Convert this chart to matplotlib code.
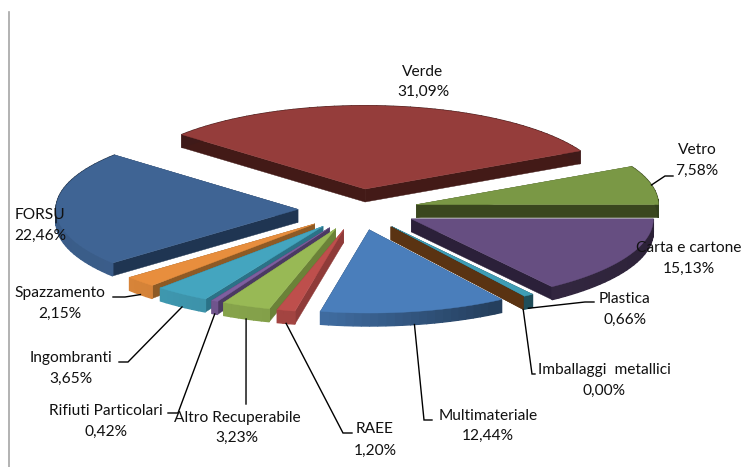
import numpy as np
import matplotlib
matplotlib.use("Agg")
import matplotlib.pyplot as plt
from matplotlib.patches import Polygon

# ---- data ----
categories = ["Verde", "Vetro", "Carta e cartone", "Plastica", "Imballaggi  metallici",
              "Multimateriale", "RAEE", "Altro Recuperabile", "Rifiuti Particolari",
              "Ingombranti", "Spazzamento", "FORSU"]
values = [31.09, 7.58, 15.13, 0.66, 0.00, 12.44, 1.20, 3.23, 0.42, 3.65, 2.15, 22.46]
pct_labels = ["31,09%", "7,58%", "15,13%", "0,66%", "0,00%", "12,44%",
              "1,20%", "3,23%", "0,42%", "3,65%", "2,15%", "22,46%"]

# ---- style ----
top_colors = ["#953D3B", "#7A9845", "#664E81", "#3F9DB5", "#E68B3A", "#4A7EBB",
              "#BE4F4C", "#98B955", "#7E5F9F", "#44A5BF", "#E88E3D", "#3F6494"]
wall_colors = ["#431A17", "#3A471E", "#2B2039", "#143E48", "#5A3312", "#223E60",
               "#8F3B39", "#6B8238", "#4B3A63", "#2B7287", "#8E5A25", "#1F3552"]
START_ANGLE = 139.2   # degrees, slices run clockwise
CX, CY = 358.0, 209.5 # pie centre, figure pixels
RADIUS = 242.0
SQUASH = 0.344
EXPLODE = 60.0
DEPTH = 13.0

# label centres (x, y of the name line, y of the percent line) and leader elbows
label_pos = [(423, 72, 92), (697, 150, 171), (689, 248, 269), (625, 299, 320),
             (604, 370, 391), (488, 416, 436), (375, 429, 451), (237, 418, 438),
             (106, 411, 432), (71, 358, 379), (60, 293, 314), (40, 215, 236)]
leaders = {1: [(665, 176), (673, 176)],
           3: [(585, 302), (594, 302)],
           4: [(532, 374), (535, 374)],
           5: [(424, 420), (432, 420)],
           6: [(343, 433), (352, 433)],
           7: [(246, 404)],
           8: [(178, 413), (168, 413)],
           9: [(128, 362), (119, 362)],
           10: [(125, 297), (113, 297)]}

plt.rcParams['font.family'] = ['Lato', 'DejaVu Sans']
fig = plt.figure(figsize=(7.44, 4.67), dpi=100)
ax = fig.add_axes([0, 0, 1, 1])
ax.set_xlim(0, 744)
ax.set_ylim(467, 0)
ax.axis("off")


def shade(color, f):
    return tuple(c * f for c in matplotlib.colors.to_rgb(color))


def arc_factor(theta):
    t = (theta + 180) % 360 - 180
    return np.interp(t, [-180, -140, -100, -60, 0, 180], [.92, .93, .85, .5, .42, .42])


total = sum(values)
spans = [v / total * 360 for v in values]
ends = START_ANGLE - np.cumsum(spans)
starts = ends + np.array(spans)
mids = (starts + ends) / 2


def project(tip, r, theta):
    t = np.radians(theta)
    return tip[0] + r * np.cos(t), tip[1] - r * SQUASH * np.sin(t)


def drop(p):
    return p[0], p[1] + DEPTH


tips = [project((CX, CY), EXPLODE, m) for m in mids]

# back-to-front
order = sorted(range(len(values)), key=lambda i: -np.sin(np.radians(mids[i])))
for i in order:
    tip = tips[i]
    n = max(2, int(spans[i] / 2) + 2)
    th = np.linspace(starts[i], ends[i], n)
    arc = [project(tip, RADIUS, a) for a in th]
    for edge in (arc[0], arc[-1]):
        ax.add_patch(Polygon([tip, edge, drop(edge), drop(tip)], closed=True,
                             fc=wall_colors[i], ec=wall_colors[i], lw=0.3, zorder=2))
    if spans[i] > 0:
        for k in range(n - 1):
            c = shade(top_colors[i], arc_factor((th[k] + th[k + 1]) / 2))
            ax.add_patch(Polygon([arc[k], arc[k + 1], drop(arc[k + 1]), drop(arc[k])],
                                 closed=True, fc=c, ec=c, lw=1.0, zorder=2))
        ax.add_patch(Polygon([tip] + arc, closed=True, fc=top_colors[i],
                             ec=top_colors[i], lw=0.3, zorder=2))

# leader lines
for i, pts in leaders.items():
    x0, y0 = project(tips[i], RADIUS, mids[i])
    wall = 0 if np.sin(np.radians(mids[i])) > 0 else DEPTH
    xs = [x0] + [p[0] for p in pts]
    ys = [y0 + wall] + [p[1] for p in pts]
    ax.plot(xs, ys, color="black", lw=1.0, zorder=3, solid_joinstyle="miter")

# labels
for name, pct, (x, y1, y2) in zip(categories, pct_labels, label_pos):
    ax.text(x, y1, name, ha="center", va="center", fontsize=11.2, color="#111111", zorder=4)
    ax.text(x, y2, pct, ha="center", va="center", fontsize=11.2, color="#111111", zorder=4)

# plot frame remnant on the left
ax.plot([8.5, 8.5], [12, 467], color="#A6A6A6", lw=1.2, zorder=1)

fig.savefig("out.png", dpi=100, facecolor="white")
